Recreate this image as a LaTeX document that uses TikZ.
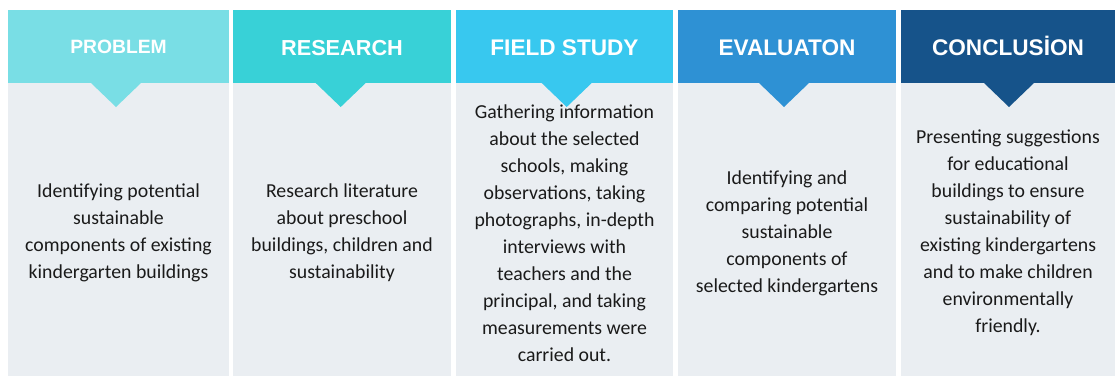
\documentclass[tikz,border=0pt]{standalone}
\usepackage{fontspec}
\setmainfont{Carlito}
\newfontfamily\headfont{Liberation Sans}
\definecolor{bodybg}{HTML}{EAEEF2}
\definecolor{txt}{HTML}{1A1A1A}
\definecolor{cA}{HTML}{79DEE5}
\definecolor{cB}{HTML}{38D1D7}
\definecolor{cC}{HTML}{38C8EF}
\definecolor{cD}{HTML}{2E91D4}
\definecolor{cE}{HTML}{16538A}
\begin{document}
\begin{tikzpicture}[x=1pt,y=-1pt,
  head/.style={anchor=north west,inner sep=0pt,minimum height=73pt},
  bodybox/.style={anchor=north west,inner sep=0pt,fill=bodybg,minimum height=293pt},
  headtext/.style={anchor=base,text=white,font=\headfont\bfseries},
  bodytext/.style={align=center,text=txt,font=\fontsize{19.8}{27}\selectfont,inner sep=0pt}]
\useasboundingbox (0,0) rectangle (1115,376);
\fill[white] (0,0) rectangle (1115,376);
% panels: x-start, width, colour
\foreach \n/\x/\w/\c in {1/8/221/cA, 2/233/218/cB, 3/456/217/cC, 4/678/218/cD, 5/901/214/cE}{
  \node[bodybox,minimum width=\w pt] (body\n) at (\x,83) {};
  \node[head,fill=\c,minimum width=\w pt] (head\n) at (\x,10) {};
}
% body texts
\node[bodytext] (t1) at (118.5,233) {Identifying potential\\sustainable\\components of existing\\kindergarten buildings};
\node[bodytext] (t2) at (342,233) {Research literature\\about preschool\\buildings, children and\\sustainability};
\node[bodytext] (t3) at (564.5,233) {Gathering information\\about the selected\\schools, making\\observations, taking\\photographs, in-depth\\interviews with\\teachers and the\\principal, and taking\\measurements were\\carried out.};
\node[bodytext] (t4) at (787,233) {Identifying and\\comparing potential\\sustainable\\components of\\selected kindergartens};
\node[bodytext] (t5) at (1008,233) {Presenting suggestions\\for educational\\buildings to ensure\\sustainability of\\existing kindergartens\\and to make children\\environmentally\\friendly.};
% pointers below each header
\foreach \n/\c/\t in {1/cA/116, 2/cB/340.7, 3/cC/566.7, 4/cD/784, 5/cE/1009}{
  \fill[\c] (\t-25.5,82.5) -- (\t+25.5,82.5) -- (\t,107) -- cycle;
}
% header titles
\node[headtext,font=\headfont\bfseries\fontsize{19.3}{19}\selectfont] (h1) at (118.5,53) {PROBLEM};
\node[headtext,font=\headfont\bfseries\fontsize{21.7}{22}\selectfont] (h2) at (342,55) {RESEARCH};
\node[headtext,font=\headfont\bfseries\fontsize{22.6}{23}\selectfont] (h3) at (564.5,55) {FIELD STUDY};
\node[headtext,font=\headfont\bfseries\fontsize{22.6}{23}\selectfont] (h4) at (787,55) {EVALUATON};
\node[headtext,font=\headfont\bfseries\fontsize{22.6}{23}\selectfont] (h5) at (1008,55) {CONCLUSİON};
\end{tikzpicture}
\end{document}
